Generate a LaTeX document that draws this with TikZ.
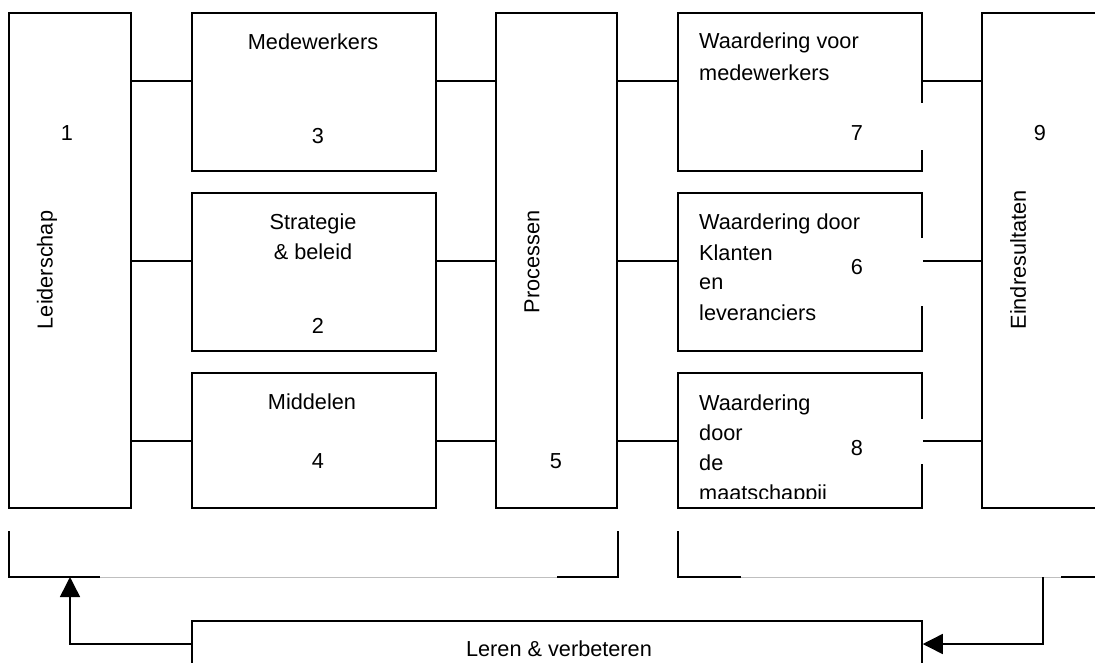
\documentclass[tikz,border=0pt]{standalone}
\usepackage{fontspec}
\setmainfont{Liberation Sans}
\usetikzlibrary{arrows.meta}
\tikzset{
  box/.style={draw, line width=1.5pt, inner sep=0pt, fill=white},
  lbl/.style={inner sep=0pt, anchor=base, font=\fontsize{21.7}{26}\selectfont},
  lbll/.style={inner sep=0pt, anchor=base west, font=\fontsize{21.7}{26}\selectfont},
  vlbl/.style={inner sep=0pt, rotate=90, font=\fontsize{21.7}{26}\selectfont},
  conn/.style={line width=1.5pt},
  gap/.style={fill=white, draw=none},
  faint/.style={draw=black!25, line width=1pt},
  arr/.style={line width=1.5pt, -{Triangle[width=20pt,length=20pt]}}
}
\begin{document}
\begin{tikzpicture}[x=1pt,y=-1pt]
\useasboundingbox (0,0) rectangle (1095,662);
\clip (0,0) rectangle (1095,662);
% boxes
\node[box, minimum width=122pt, minimum height=495pt] (L) at (70,260.5) {};
\node[box, minimum width=244pt, minimum height=158pt] (B3) at (314,92) {};
\node[box, minimum width=244pt, minimum height=158pt] (B2) at (314,272) {};
\node[box, minimum width=244pt, minimum height=135pt] (B4) at (314,440.5) {};
\node[box, minimum width=121pt, minimum height=495pt] (P) at (556.5,260.5) {};
\node[box, minimum width=244pt, minimum height=158pt] (B7) at (800,92) {};
\node[box, minimum width=244pt, minimum height=158pt] (B6) at (800,272) {};
\node[box, minimum width=244pt, minimum height=135pt] (B8) at (800,440.5) {};
\node[box, minimum width=130pt, minimum height=495pt] (E) at (1047,260.5) {};
\node[box, minimum width=730pt, minimum height=59pt] (LV) at (557,650.5) {};
% gaps on right edges
\fill[gap] (919,103) rectangle (925,150);
\fill[gap] (919,238) rectangle (925,306);
\fill[gap] (919,419) rectangle (925,464);
% row coordinates
\coordinate (r1) at (0,81);
\coordinate (r2) at (0,261);
\coordinate (r3) at (0,441);
% connectors
\draw[conn] (L.east |- r1) -- (B3.west |- r1);
\draw[conn] (L.east |- r2) -- (B2.west |- r2);
\draw[conn] (L.east |- r3) -- (B4.west |- r3);
\draw[conn] (B3.east |- r1) -- (P.west |- r1);
\draw[conn] (B2.east |- r2) -- (P.west |- r2);
\draw[conn] (B4.east |- r3) -- (P.west |- r3);
\draw[conn] (P.east |- r1) -- (B7.west |- r1);
\draw[conn] (P.east |- r2) -- (B6.west |- r2);
\draw[conn] (P.east |- r3) -- (B8.west |- r3);
\draw[conn] (B7.east |- r1) -- (E.west |- r1);
\draw[conn] (B6.east |- r2) -- (E.west |- r2);
\draw[conn] (B8.east |- r3) -- (E.west |- r3);
% brackets
\coordinate (bl1) at (9,531);
\coordinate (bl2) at (9,577);
\coordinate (bl3) at (100,577);
\coordinate (bl4) at (557,577);
\coordinate (bl5) at (618,577);
\coordinate (bl6) at (618,531);
\coordinate (br1) at (678,531);
\coordinate (br2) at (678,577);
\coordinate (br3) at (741,577);
\coordinate (br4) at (1061,577);
\coordinate (br5) at (1095,577);
\draw[faint] (bl3) -- (bl4);
\draw[faint] (br3) -- (br4);
\draw[conn] (bl1) -- (bl2) -- (bl3);
\draw[conn] (bl4) -- (bl5) -- (bl6);
\draw[conn] (br1) -- (br2) -- (br3);
\draw[conn] (br4) -- (br5);
% feedback arrows
\coordinate (ar) at (0,644);
\coordinate (lb) at (70,577);
\coordinate (rb) at (1043,577);
\draw[arr] (LV.west |- ar) -- (lb |- ar) -- (lb);
\draw[arr] (rb) -- (rb |- ar) -- (LV.east |- ar);
% labels
\node[vlbl] (tL) at (47,270) {Leiderschap};
\node[vlbl] (tP) at (532,262) {Processen};
\node[vlbl] (tE) at (1018,260) {Eindresultaten};
\node[lbl] (n1) at (67,140) {1};
\node[lbl] (t3) at (313,49) {Medewerkers};
\node[lbl] (n3) at (318,143) {3};
\node[lbl] (t2a) at (313,229) {Strategie};
\node[lbl] (t2b) at (313,259) {\& beleid};
\node[lbl] (n2) at (318,333) {2};
\node[lbl] (t4) at (312,409) {Middelen};
\node[lbl] (n4) at (318,468) {4};
\node[lbl] (n5) at (556,468) {5};
\node[lbll] (t7a) at (699,48) {Waardering voor};
\node[lbll] (t7b) at (699,80) {medewerkers};
\node[lbl] (n7) at (857,140) {7};
\node[lbl] (n9) at (1040,140) {9};
\node[lbll] (t6a) at (699,229) {Waardering door};
\node[lbll] (t6b) at (699,260) {Klanten};
\node[lbll] (t6c) at (699,289) {en};
\node[lbll] (t6d) at (699,320) {leveranciers};
\node[lbl] (n6) at (857,274) {6};
\node[lbll] (t8a) at (699,410) {Waardering};
\node[lbll] (t8b) at (699,440) {door};
\node[lbll] (t8c) at (699,470) {de};
\begin{scope}
\clip (690,478) rectangle (910,498);
\node[lbll] (t8d) at (699,500) {maatschappij};
\end{scope}
\begin{scope}
\clip (835,438) rectangle (880,470);
\node[lbl] (n8) at (857,455) {8};
\end{scope}
\node[lbl] (tLV) at (559,656) {Leren \& verbeteren};
\end{tikzpicture}
\end{document}
